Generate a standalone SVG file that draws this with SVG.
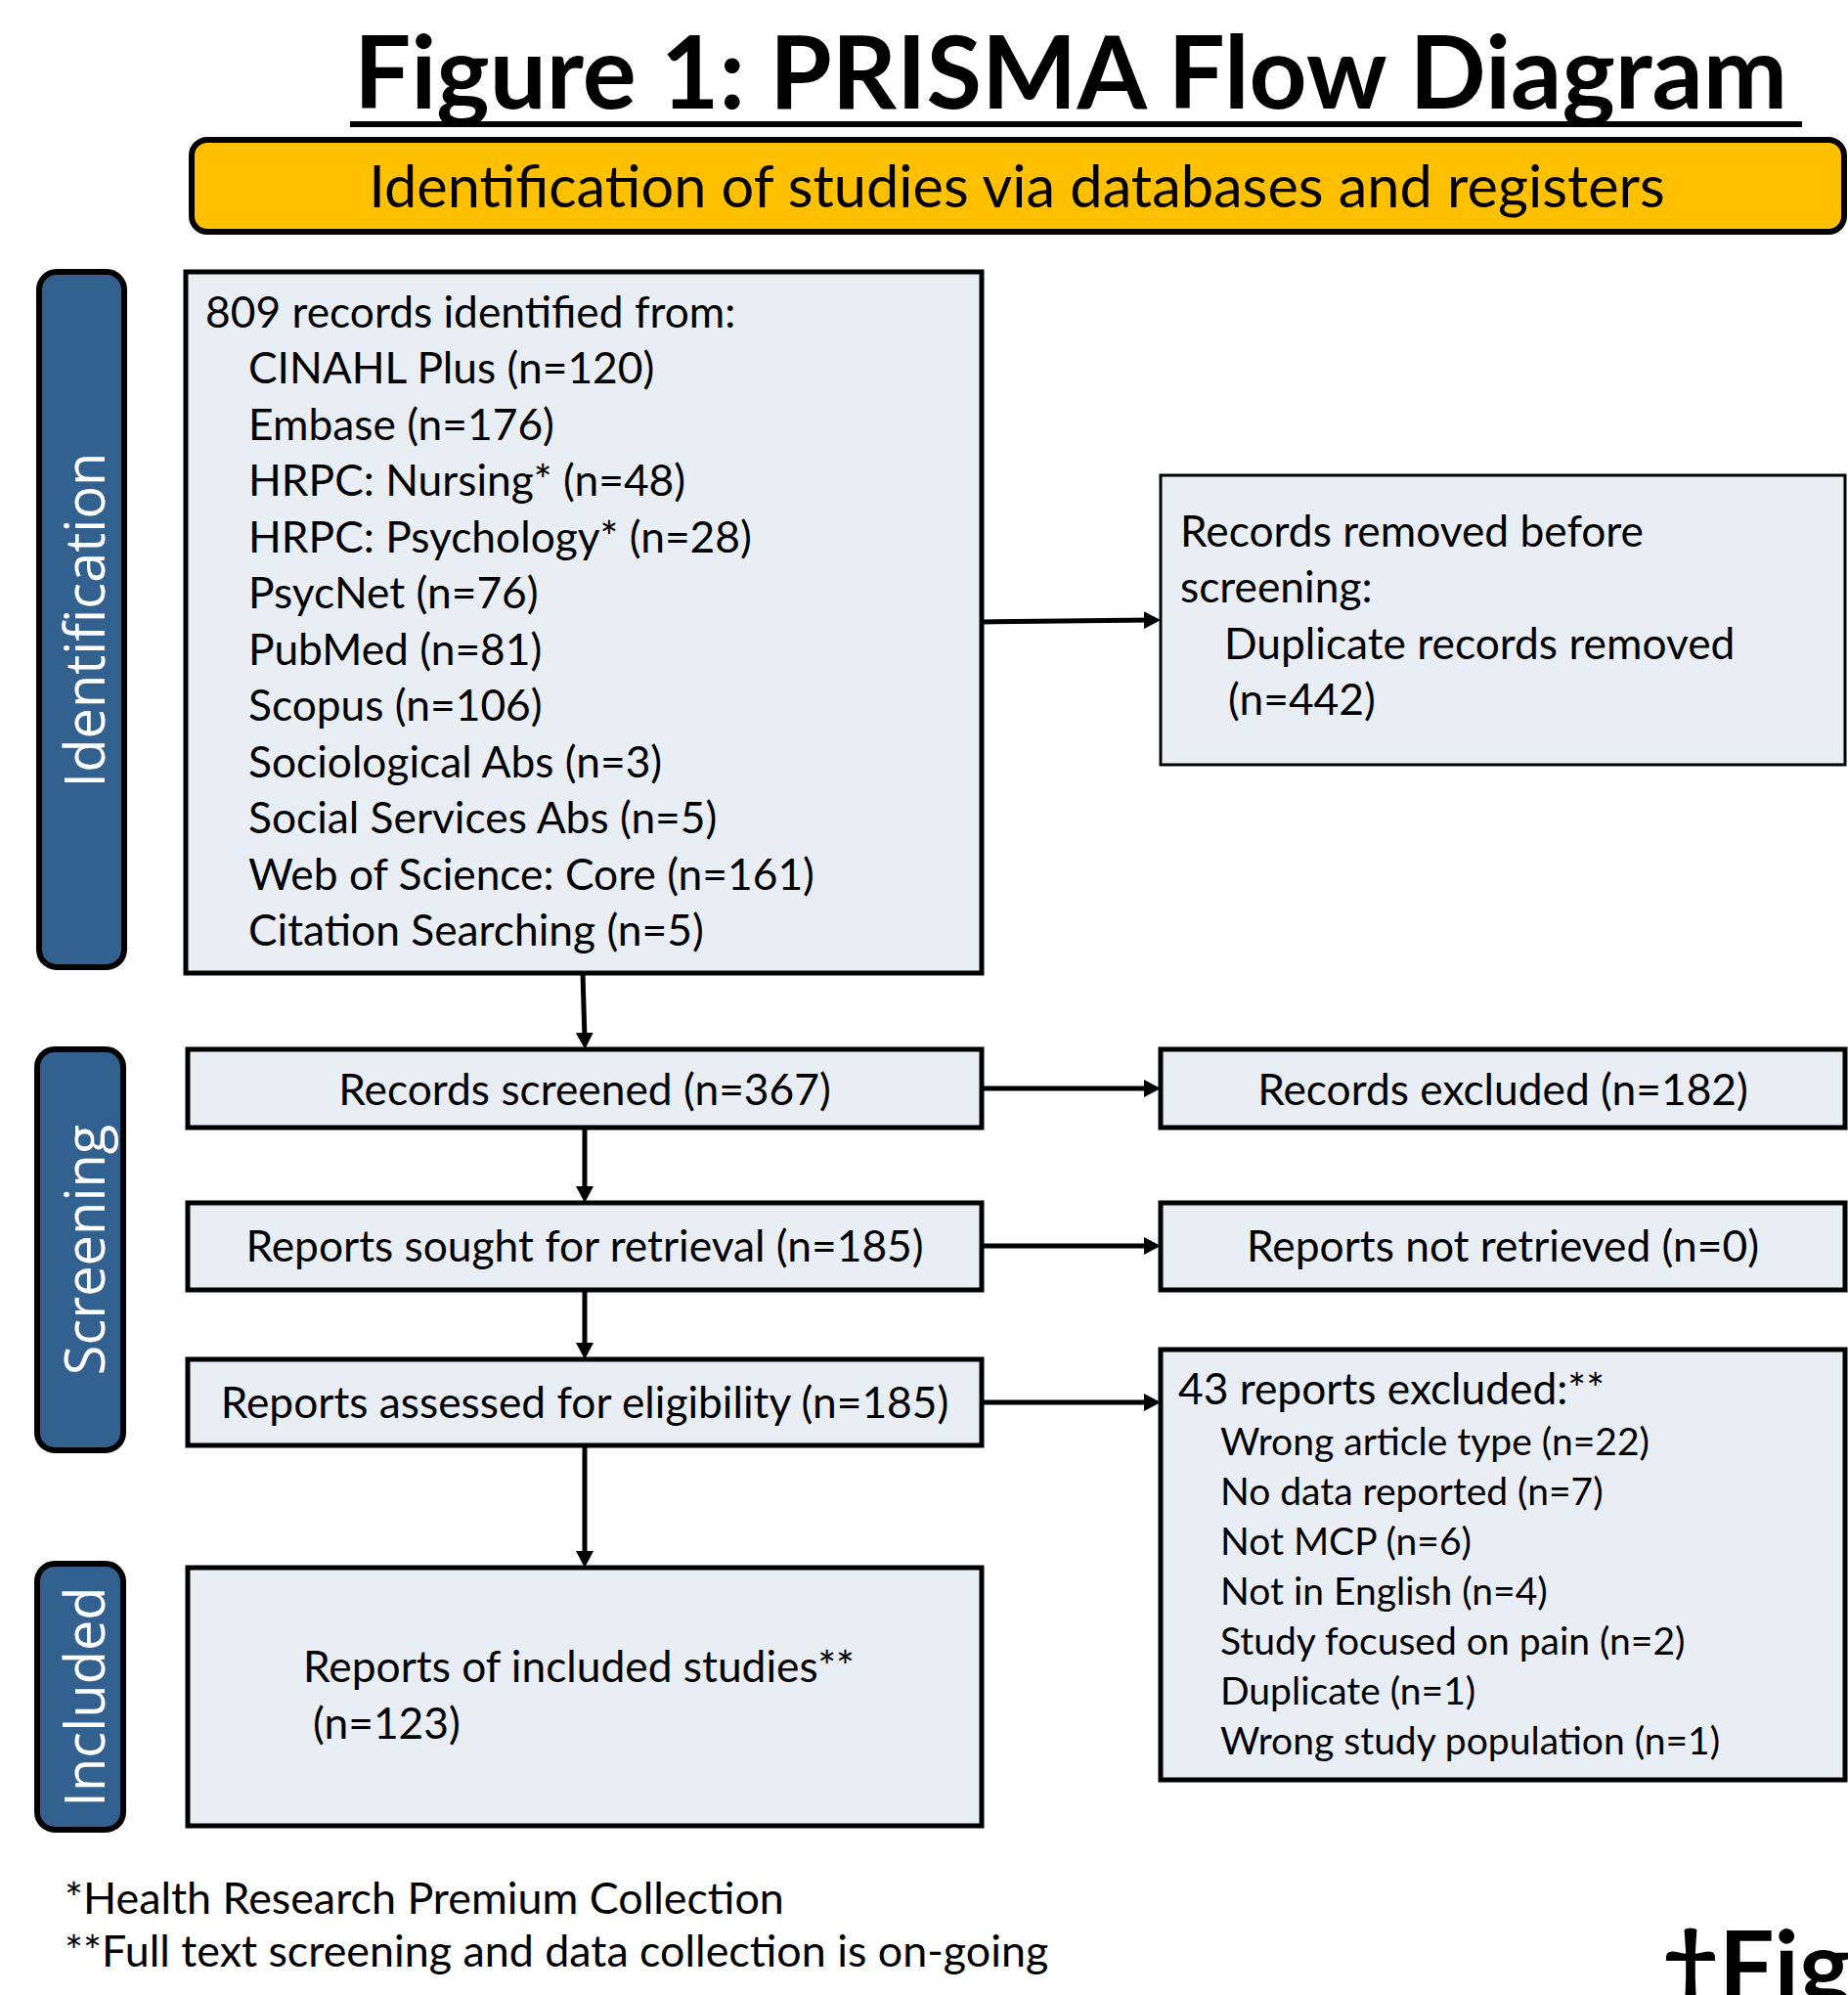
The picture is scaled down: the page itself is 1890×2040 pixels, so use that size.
<svg xmlns="http://www.w3.org/2000/svg" width="1890" height="2040" viewBox="0 0 1890 2040">
<style>
.t{font-family:Lato,"Open Sans","DejaVu Sans",sans-serif;fill:#000}
.m{font-size:44.3px}
.s{font-size:39px}
.f{font-size:44.8px}
.box{fill:#E9EDF4;stroke:#000;stroke-width:5}
.side{fill:#32608F;stroke:#000;stroke-width:6}
.st{font-family:"Open Sans","DejaVu Sans",sans-serif;font-size:56px;fill:#fff;text-anchor:middle}
.c{text-anchor:middle}
.ln{stroke:#000;stroke-width:5;fill:none;marker-end:url(#ah)}
</style>
<defs>
<marker id="ah" markerUnits="userSpaceOnUse" markerWidth="18" markerHeight="18" refX="7" refY="9" orient="auto" viewBox="0 0 18 18">
<path d="M0,0 L17,9 L0,18 z" fill="#000"/>
</marker>
</defs>
<rect width="1890" height="2040" fill="#fff"/>

<g id="title">
<text class="t" x="362" y="111" font-size="103" font-weight="bold">Figure 1: PRISMA Flow Diagram</text>
<rect x="358" y="124" width="1485" height="6" fill="#000"/>
</g>

<g id="banner">
<rect x="196" y="143" width="1690" height="94" rx="16" fill="#FFC000" stroke="#000" stroke-width="6"/>
<text class="t c" x="1040" y="212" font-size="59.5">Identification of studies via databases and registers</text>
</g>

<g id="side-identification">
<rect class="side" x="40" y="278" width="87" height="711" rx="18"/>
<text class="st" transform="translate(107,634) rotate(-90)">Identification</text>
</g>
<g id="side-screening">
<rect class="side" x="38" y="1073" width="88" height="410" rx="18"/>
<text class="st" transform="translate(107,1278) rotate(-90)">Screening</text>
</g>
<g id="side-included">
<rect class="side" x="38" y="1599" width="88" height="272" rx="18"/>
<text class="st" transform="translate(107,1735) rotate(-90)">Included</text>
</g>

<g id="records-identified">
<rect class="box" x="190" y="278" width="814" height="717"/>
<text class="t m" x="210" y="335">809 records identified from:</text>
<text class="t m" x="254" y="392">CINAHL Plus (n=120)</text>
<text class="t m" x="254" y="450">Embase (n=176)</text>
<text class="t m" x="254" y="507">HRPC: Nursing* (n=48)</text>
<text class="t m" x="254" y="565">HRPC: Psychology* (n=28)</text>
<text class="t m" x="254" y="622">PsycNet (n=76)</text>
<text class="t m" x="254" y="680">PubMed (n=81)</text>
<text class="t m" x="254" y="737">Scopus (n=106)</text>
<text class="t m" x="254" y="795">Sociological Abs (n=3)</text>
<text class="t m" x="254" y="852">Social Services Abs (n=5)</text>
<text class="t m" x="254" y="910">Web of Science: Core (n=161)</text>
<text class="t m" x="254" y="967">Citation Searching (n=5)</text>
</g>

<g id="records-removed">
<rect class="box" x="1187" y="486" width="700" height="296" style="stroke-width:3"/>
<text class="t m" x="1207" y="559">Records removed before</text>
<text class="t m" x="1207" y="616">screening:</text>
<text class="t m" x="1252" y="674">Duplicate records removed</text>
<text class="t m" x="1256" y="731">(n=442)</text>
</g>

<g id="records-screened">
<rect class="box" x="192" y="1073" width="812" height="80"/>
<text class="t m c" x="598" y="1130">Records screened (n=367)</text>
</g>
<g id="records-excluded">
<rect class="box" x="1187" y="1073" width="700" height="80"/>
<text class="t m c" x="1537" y="1130">Records excluded (n=182)</text>
</g>

<g id="reports-sought">
<rect class="box" x="192" y="1230" width="812" height="89"/>
<text class="t m c" x="598" y="1290">Reports sought for retrieval (n=185)</text>
</g>
<g id="reports-not-retrieved">
<rect class="box" x="1187" y="1230" width="700" height="89"/>
<text class="t m c" x="1537" y="1290">Reports not retrieved (n=0)</text>
</g>

<g id="reports-assessed">
<rect class="box" x="192" y="1390" width="812" height="88"/>
<text class="t m c" x="598" y="1450">Reports assessed for eligibility (n=185)</text>
</g>
<g id="reports-excluded">
<rect class="box" x="1187" y="1380" width="700" height="440"/>
<text class="t m" x="1205" y="1436">43 reports excluded:**</text>
<text class="t s" x="1248" y="1488">Wrong article type (n=22)</text>
<text class="t s" x="1248" y="1539">No data reported (n=7)</text>
<text class="t s" x="1248" y="1590">Not MCP (n=6)</text>
<text class="t s" x="1248" y="1641">Not in English (n=4)</text>
<text class="t s" x="1248" y="1692">Study focused on pain (n=2)</text>
<text class="t s" x="1248" y="1743">Duplicate (n=1)</text>
<text class="t s" x="1248" y="1794">Wrong study population (n=1)</text>
</g>

<g id="included-studies">
<rect class="box" x="192" y="1603" width="812" height="264"/>
<text class="t m" x="310" y="1720">Reports of included studies**</text>
<text class="t m" x="320" y="1778">(n=123)</text>
</g>

<g id="connectors">
<line class="ln" x1="1004" y1="636" x2="1177" y2="634"/>
<line class="ln" x1="596" y1="995" x2="598" y2="1063"/>
<line class="ln" x1="1004" y1="1113" x2="1177" y2="1113"/>
<line class="ln" x1="598" y1="1153" x2="598" y2="1220"/>
<line class="ln" x1="1004" y1="1274" x2="1177" y2="1274"/>
<line class="ln" x1="598" y1="1319" x2="598" y2="1380"/>
<line class="ln" x1="1004" y1="1434" x2="1177" y2="1434"/>
<line class="ln" x1="598" y1="1478" x2="598" y2="1593"/>
</g>

<g id="footnotes">
<text class="t f" x="66" y="1957">*Health Research Premium Collection</text>
<text class="t f" x="66" y="2011">**Full text screening and data collection is on-going</text>
<text class="t" x="1700" y="2046" font-size="100" font-weight="bold">†Fig</text>
</g>
</svg>
